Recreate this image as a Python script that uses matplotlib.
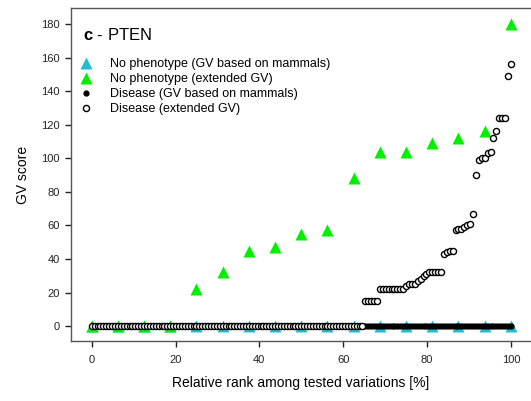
import numpy as np
import matplotlib
matplotlib.use("Agg")
import matplotlib.pyplot as plt

plt.rcParams['font.family'] = ['Liberation Sans', 'DejaVu Sans']
plt.rcParams['mathtext.fontset'] = 'custom'
plt.rcParams['mathtext.bf'] = 'Liberation Sans:bold'
plt.rcParams['mathtext.rm'] = 'Liberation Sans'

# No phenotype variations (17), sorted scores
nophen_mammal = [0] * 17
nophen_ext = [0, 0, 0, 0, 22, 32, 45, 47, 55, 57, 88, 104, 104, 109, 112, 116, 180]

# Disease variations, sorted extended GV scores
disease_ext = [0] * 94 + [
    15, 15, 15, 15, 15,
    22, 22, 22, 22, 22, 22, 22, 22, 22,
    24, 25, 25, 25, 27,
    28, 30, 31,
    32, 32, 32, 32, 32,
    43, 44, 45, 45,
    57, 58, 58, 59, 60, 61,
    67, 90,
    99, 100, 100,
    103, 104,
    112, 116,
    124, 124, 124,
    149, 156,
]
disease_mammal = [0] * len(disease_ext)


def rel_rank(vals):
    n = len(vals)
    return np.arange(n) / (n - 1) * 100


fig = plt.figure(figsize=(5.31, 4.01), dpi=100)
ax = fig.add_axes([0.1337, 0.1496, 0.8663, 0.8304])

ax.plot(rel_rank(nophen_mammal), nophen_mammal, '^', color='#1fbfcf', ms=8.5, mec='none',
        label='No phenotype (GV based on mammals)')
ax.plot(rel_rank(nophen_ext), nophen_ext, '^', color='#00f000', ms=8.5, mec='none',
        label='No phenotype (extended GV)')
ax.plot(rel_rank(disease_mammal), disease_mammal, 'o', color='black', ms=3.5, mec='black',
        label='Disease (GV based on mammals)')
ax.plot(rel_rank(disease_ext), disease_ext, 'o', mfc='white', mec='black', ms=4.4, mew=1.0,
        label='Disease (extended GV)')

ax.set_xlim(-4.94, 104.8)
ax.set_ylim(-8.9, 189.5)
ax.set_xticks([0, 20, 40, 60, 80, 100])
ax.set_yticks(range(0, 181, 20))
ax.tick_params(direction='out', length=4, width=1, labelsize=8, colors='#222222')
ax.tick_params(axis='x', pad=6)
ax.tick_params(axis='y', pad=4)
for s in ['left', 'bottom', 'top']:
    ax.spines[s].set_color('#555555')
    ax.spines[s].set_linewidth(1.0)
ax.spines['right'].set_visible(False)

ax.set_xlabel('Relative rank among tested variations [%]', fontsize=10, labelpad=8)
ax.set_ylabel('GV score', fontsize=10, labelpad=8)

ax.text(0.026, 0.942, r'$\mathbf{c}$ - PTEN', transform=ax.transAxes, fontsize=12,
        va='top', ha='left')
ax.legend(loc='upper left', bbox_to_anchor=(-0.005, 0.872), frameon=False, fontsize=9,
          handletextpad=1.2, labelspacing=0.24, borderaxespad=0.2, handlelength=1.5)

fig.savefig('out.png', dpi=100)
